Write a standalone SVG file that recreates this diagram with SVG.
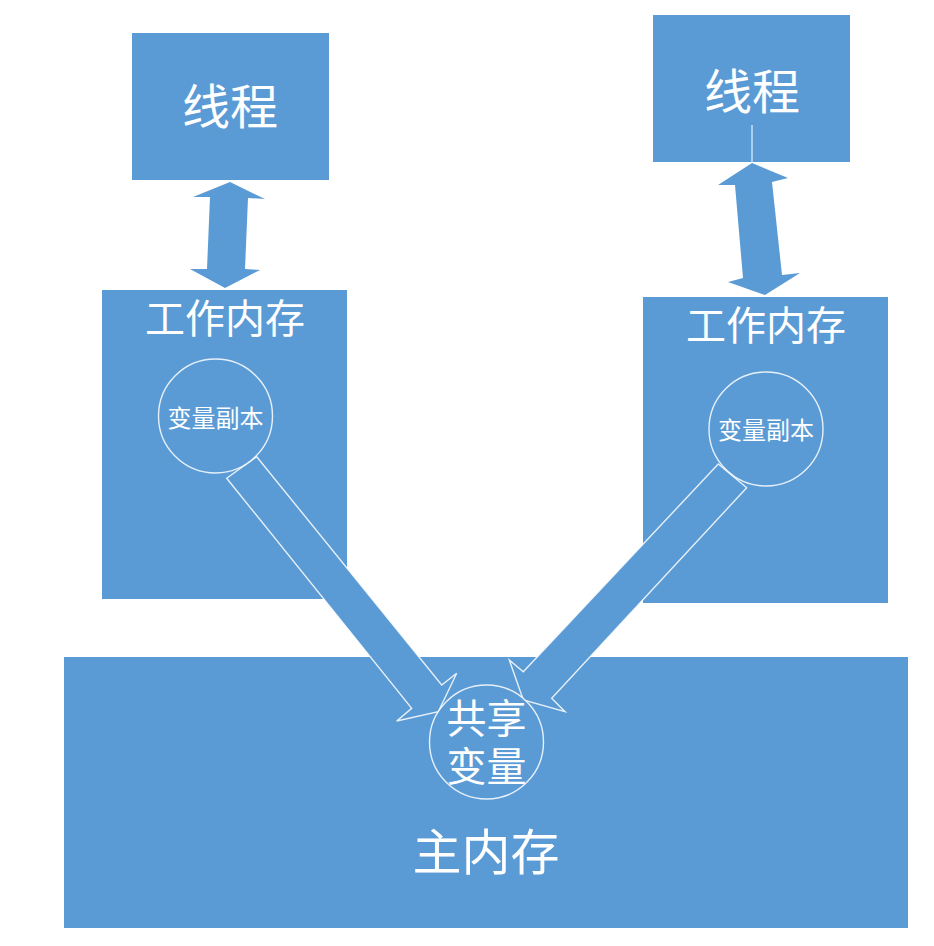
<svg xmlns="http://www.w3.org/2000/svg" width="934" height="946" viewBox="0 0 934 946">
<style>
.box{fill:#5B9BD5}
.arr{fill:#5B9BD5}
.out{fill:#5B9BD5;stroke:#ffffff;stroke-width:1.4;stroke-opacity:0.85;stroke-linejoin:miter}
.circ{fill:#5B9BD5;stroke:#ffffff;stroke-width:1.4;stroke-opacity:0.85}
.t{fill:#ffffff;font-family:"Noto Sans CJK SC","Noto Sans",sans-serif;text-anchor:middle;dominant-baseline:central}
</style>
<rect width="934" height="946" fill="#ffffff"/>
<g id="main-memory">
<rect class="box" x="64" y="657" width="844" height="271"/>
<text class="t" x="486" y="848" font-size="49">主内存</text>
</g>
<g id="work-memory-left">
<rect class="box" x="102" y="290" width="245" height="309"/>
<text class="t" x="225" y="316" font-size="40">工作内存</text>
</g>
<g id="work-memory-right">
<rect class="box" x="643" y="297" width="245" height="306"/>
<text class="t" x="766" y="323" font-size="40">工作内存</text>
</g>
<g id="thread-left">
<rect class="box" x="132" y="33" width="197" height="147"/>
<text class="t" x="230" y="103" font-size="48">线程</text>
</g>
<g id="thread-right">
<rect class="box" x="653" y="15" width="197" height="147"/>
<text class="t" x="752" y="88" font-size="48">线程</text>
<line x1="752" y1="125" x2="752" y2="162" stroke="#ffffff" stroke-width="1"/>
</g>
<g id="connectors">
<polygon class="arr" points="230,182 265,199 248,198 245,269 260,270 225,288 190,269 207,269 210,197 193,197"/>
<polygon class="arr" points="752,163 788,178 772,182 782,275 800,273 765,295 728,282 743,278 735,185 718,185"/>
<polygon class="out" points="226.7,478.3 256.7,456.7 441.7,685 456.7,673.3 438.3,711.7 396.7,721 411.7,708.3"/>
<polygon class="out" points="718.3,464 746.7,487.7 551.7,698.3 565,711.7 523.3,700 509.3,660 523.3,671.7"/>
</g>
<g id="copy-left">
<circle class="circ" cx="215.5" cy="416" r="57"/>
<text class="t" x="215.5" y="416" font-size="24">变量副本</text>
</g>
<g id="copy-right">
<circle class="circ" cx="766" cy="429" r="57"/>
<text class="t" x="766" y="428" font-size="24">变量副本</text>
</g>
<g id="shared-variable">
<circle class="circ" cx="486.5" cy="742" r="57"/>
<text class="t" font-size="40"><tspan x="486.5" y="716">共享</tspan><tspan x="486.5" y="764">变量</tspan></text>
</g>
</svg>
